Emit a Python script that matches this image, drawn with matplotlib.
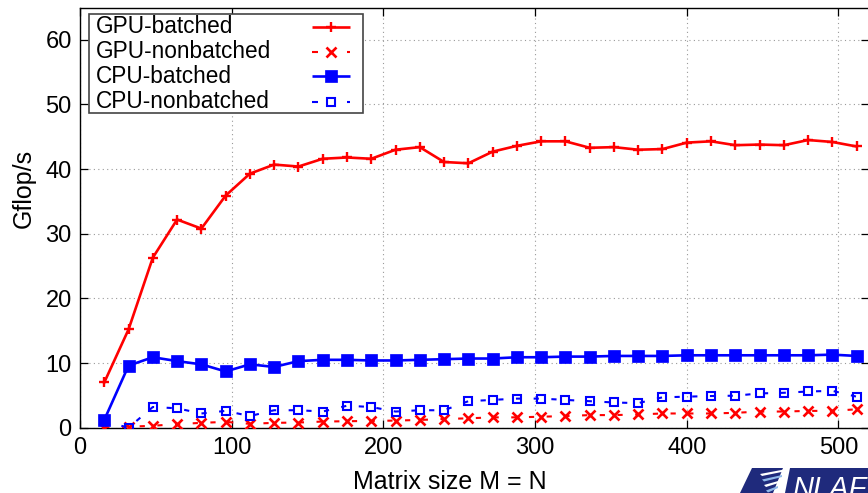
import matplotlib
matplotlib.use("Agg")
import matplotlib.pyplot as plt
from matplotlib.patches import Polygon, Rectangle
from matplotlib.lines import Line2D

# ---------------- data ----------------
matrix_size = [16, 32, 48, 64, 80, 96, 112, 128, 144, 160, 176, 192, 208, 224, 240, 256,
               272, 288, 304, 320, 336, 352, 368, 384, 400, 416, 432, 448, 464, 480, 496, 512]

gpu_batched = [7.0, 15.2, 26.3, 32.2, 30.8, 35.9, 39.3, 40.7, 40.4, 41.6, 41.8, 41.6,
               43.0, 43.4, 41.1, 40.9, 42.7, 43.6, 44.3, 44.3, 43.3, 43.4, 43.0, 43.1,
               44.1, 44.3, 43.7, 43.8, 43.7, 44.5, 44.2, 43.5]

gpu_nonbatched = [0.0, 0.15, 0.3, 0.55, 0.75, 0.9, 0.6, 0.75, 0.8, 0.95, 1.0, 1.05,
                  1.1, 1.2, 1.35, 1.45, 1.6, 1.6, 1.7, 1.8, 1.95, 1.95, 2.05, 2.2,
                  2.2, 2.2, 2.3, 2.5, 2.5, 2.6, 2.6, 2.85]

cpu_batched = [1.2, 9.6, 10.9, 10.3, 9.8, 8.7, 9.8, 9.4, 10.3, 10.5, 10.5, 10.4,
               10.4, 10.5, 10.6, 10.7, 10.7, 10.9, 10.9, 11.0, 11.0, 11.1, 11.1, 11.1,
               11.2, 11.2, 11.2, 11.2, 11.2, 11.2, 11.3, 11.1]

cpu_nonbatched = [1.0, 0.0, 3.2, 3.0, 2.2, 2.6, 1.8, 2.7, 2.7, 2.5, 3.4, 3.2,
                  2.5, 2.7, 2.7, 4.1, 4.3, 4.5, 4.5, 4.3, 4.1, 3.9, 3.8, 4.7,
                  4.8, 4.9, 4.95, 5.3, 5.4, 5.6, 5.7, 4.8]

series_labels = ["GPU-batched", "GPU-nonbatched", "CPU-batched", "CPU-nonbatched"]
x_ticks = [0, 100, 200, 300, 400, 500]
y_ticks = [0, 10, 20, 30, 40, 50, 60]
x_label = "Matrix size M = N"
y_label = "Gflop/s"
logo_text = "NLAFET"

# ---------------- figure ----------------
W, H = 868, 493
plt.rcParams['font.family'] = ['Liberation Sans', 'DejaVu Sans']
fig = plt.figure(figsize=(W / 100, H / 100), dpi=100)

def fx(x):
    return x / W

def fy(y):
    return (H - y) / H

ax_left, ax_right, ax_top, ax_bottom = 80.0, 868.8, 7.5, 427.7
aw = ax_right - ax_left
ah = ax_bottom - ax_top
ax = fig.add_axes([fx(ax_left), fy(ax_bottom), aw / W, ah / H])

def axx(px):
    return (px - ax_left) / aw

def axy(py):
    return (ax_bottom - py) / ah

RED = '#ff0000'
BLUE = '#0000ff'

styles = [
    dict(color=RED, lw=1.9, marker='+', ms=7.5, mew=1.7, zorder=3),
    dict(color=RED, lw=1.5, dashes=(2.5, 6), marker='x', ms=6.5, mew=1.9, zorder=3),
    dict(color=BLUE, lw=1.9, marker='s', ms=8.5, mew=0.5, zorder=4),
    dict(color=BLUE, lw=1.5, dashes=(2.5, 6), marker='s', ms=6, mew=1.5, mfc='none', zorder=4),
]
series = [gpu_batched, gpu_nonbatched, cpu_batched, cpu_nonbatched]
for vals, st, lab in zip(series, styles, series_labels):
    ax.plot(matrix_size, vals, label=lab, **st)

ax.set_xlim(0, 520)
ax.set_ylim(0, 65)
ax.set_xticks(x_ticks)
ax.set_yticks(y_ticks)
ax.tick_params(direction='in', length=5.8, width=0.9, top=True, right=True,
               labelsize=17, colors='black')
ax.tick_params(axis='x', pad=7)
ax.tick_params(axis='y', pad=6)
ax.grid(True, color='#9a9a9a', lw=0.8, linestyle=(0, (1, 3)))
for s in ax.spines.values():
    s.set_linewidth(1.0)
    s.set_color('black')

ax.set_xlabel(x_label, fontsize=18)
ax.set_ylabel(y_label, fontsize=18)
ax.xaxis.set_label_coords(axx(450), axy(482))
ax.xaxis.label.set_va('center')
ax.yaxis.set_label_coords(axx(24), axy(188))
ax.yaxis.label.set_va('center')

# legend (gnuplot style: labels left-aligned, samples on the right)
bx0, bx1, by0, by1 = 89.3, 362.7, 14.3, 113.3
rect = Rectangle((axx(bx0), axy(by1)), (bx1 - bx0) / aw, (by1 - by0) / ah,
                 transform=ax.transAxes, facecolor='white', edgecolor='#444444', lw=1.2,
                 zorder=6, clip_on=False)
ax.add_patch(rect)
row_y = [26.7, 51.7, 76.0, 101.7]
hx0, hx1 = 311.7, 350.0
hmid = (hx0 + hx1) / 2
for lab, st, ry in zip(series_labels, styles, row_y):
    ax.text(axx(96), axy(ry), lab, transform=ax.transAxes, fontsize=16.3,
            ha='left', va='center', zorder=7)
    line_kw = dict(color=st['color'], lw=st['lw'], transform=ax.transAxes, zorder=7,
                   clip_on=False, solid_capstyle='butt')
    if 'dashes' in st:
        ax.add_line(Line2D([axx(hx0), axx(hx0 + 6)], [axy(ry)] * 2, **line_kw))
        ax.add_line(Line2D([axx(hx1 - 3.5), axx(hx1)], [axy(ry)] * 2, **line_kw))
    else:
        ax.add_line(Line2D([axx(hx0), axx(hx1)], [axy(ry)] * 2, **line_kw))
    ax.add_line(Line2D([axx(hmid)], [axy(ry)], linestyle='none', marker=st['marker'],
                       ms=st['ms'], mew=st['mew'], color=st['color'],
                       mfc=st.get('mfc', st['color']), transform=ax.transAxes,
                       zorder=8, clip_on=False))

# logo (bottom right, partly cut like the original)
navy = '#1f2a7c'
emblem = Polygon([(fx(752), fy(468)), (fx(783), fy(468)), (fx(773), fy(493)), (fx(740), fy(493))],
                 closed=True, transform=fig.transFigure, facecolor=navy, edgecolor='none')
fig.patches.append(emblem)
for i, c in enumerate(['white', '#8fb8ea', 'white', '#8fb8ea']):
    y0 = 471 + i * 5.5
    strip = Polygon([(fx(760 + i * 2), fy(y0 + 3)), (fx(784 - i * 2), fy(y0 - 1.5)),
                     (fx(784 - i * 2), fy(y0 + 0.5)), (fx(762 + i * 2), fy(y0 + 5))],
                    closed=True, transform=fig.transFigure, facecolor=c, edgecolor='none')
    fig.patches.append(strip)
box = Polygon([(fx(790), fy(468)), (fx(868), fy(468)), (fx(868), fy(493)), (fx(785), fy(493))],
              closed=True, transform=fig.transFigure, facecolor=navy, edgecolor='none')
fig.patches.append(box)
fig.text(fx(792), fy(497), logo_text, color='white', fontsize=21, style='italic',
         ha='left', va='baseline')

fig.savefig('out.png', dpi=100)
